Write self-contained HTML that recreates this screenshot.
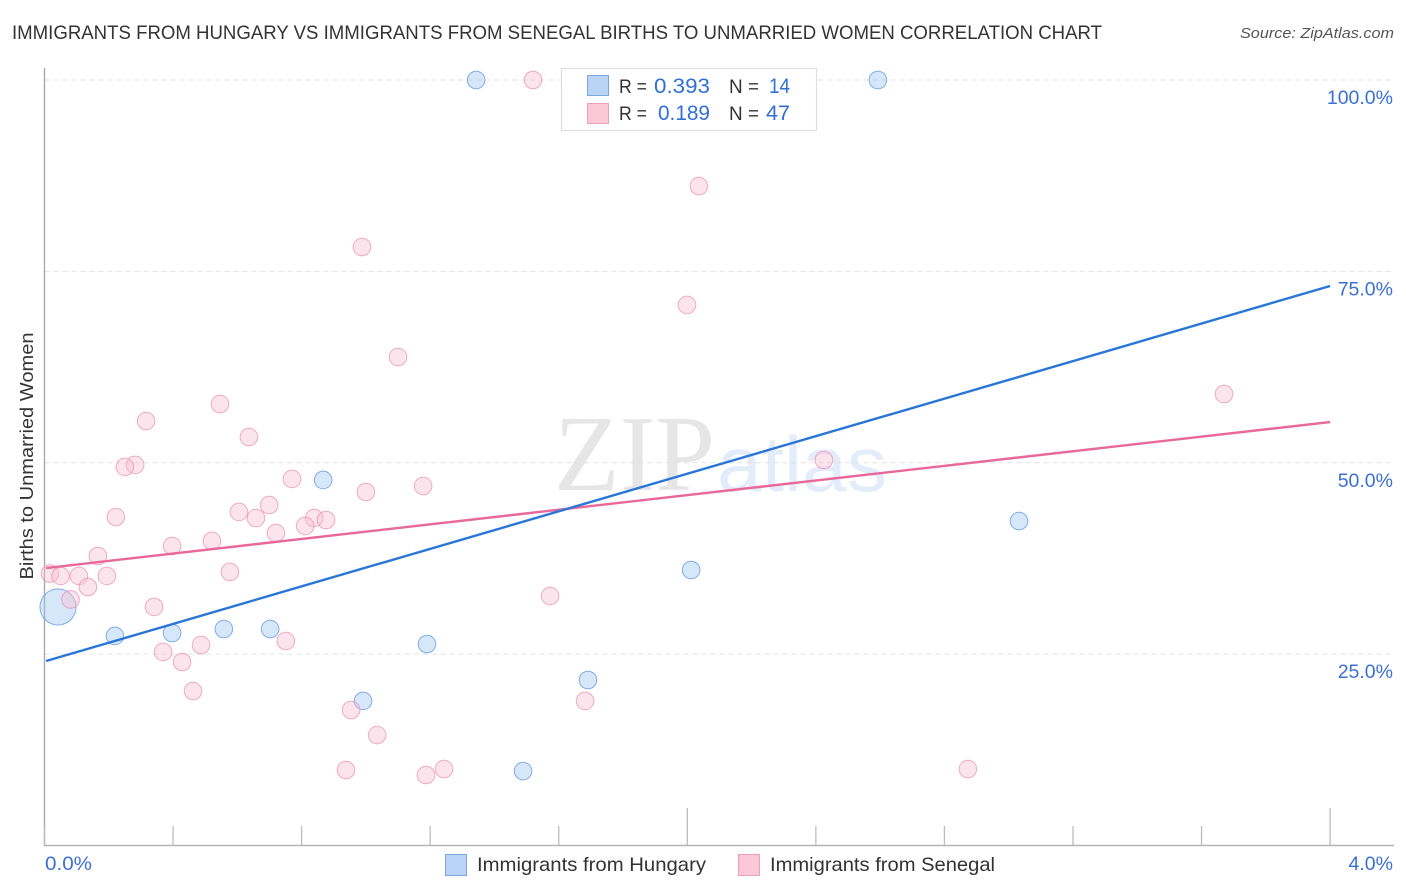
<!DOCTYPE html>
<html lang="en">
<head>
<meta charset="utf-8">
<title>Immigrants from Hungary vs Immigrants from Senegal Births to Unmarried Women Correlation Chart</title>
<style>
html,body{margin:0;padding:0;background:#fff;}
body{width:1406px;height:892px;overflow:hidden;font-family:"Liberation Sans",sans-serif;}
svg{display:block;}
text{font-family:"Liberation Sans",sans-serif;}
</style>
</head>
<body>
<svg id="chart" width="1406" height="892" viewBox="0 0 1406 892" xmlns="http://www.w3.org/2000/svg">
  <rect x="0" y="0" width="1406" height="892" fill="#ffffff"/>
  <text x="12" y="39" font-size="19" fill="#333333" textLength="1090" lengthAdjust="spacingAndGlyphs">IMMIGRANTS FROM HUNGARY VS IMMIGRANTS FROM SENEGAL BIRTHS TO UNMARRIED WOMEN CORRELATION CHART</text>
  <text x="1394" y="38" font-size="15" font-style="italic" fill="#555555" text-anchor="end" textLength="154" lengthAdjust="spacingAndGlyphs">Source: ZipAtlas.com</text>
  <g id="watermark">
    <text x="554" y="490" font-size="108" style="font-family:'Liberation Serif',serif" fill="#e6e6e6" textLength="161" lengthAdjust="spacingAndGlyphs">ZIP</text>
    <text x="717" y="491" font-size="78" fill="#e3edfa" textLength="170" lengthAdjust="spacingAndGlyphs">atlas</text>
  </g>
  <g id="grid"></g>
  <g id="axes"></g>
  <g id="points-hungary"></g>
  <g id="points-senegal"></g>
  <g id="trends"></g>
  <g id="labels"></g>
  <text transform="translate(33,456) rotate(-90)" font-size="18.5" fill="#333333" text-anchor="middle" textLength="247" lengthAdjust="spacingAndGlyphs">Births to Unmarried Women</text>

  <g>
    <rect x="561.5" y="68.5" width="255" height="62" fill="#ffffff" stroke="#dedede" stroke-width="1.2"/>
    <rect x="587.5" y="75.5" width="21" height="20" fill="#b9d4f7" stroke="#7ba7de" stroke-width="1"/>
    <rect x="587.5" y="103.5" width="21" height="20" fill="#fcc8d8" stroke="#ef9fb8" stroke-width="1"/>
    <text x="619" y="93" font-size="19.5" fill="#333333" textLength="28" lengthAdjust="spacingAndGlyphs">R =</text>
    <text x="654" y="93" font-size="21" fill="#2f6fd6" textLength="56" lengthAdjust="spacingAndGlyphs">0.393</text>
    <text x="729" y="93" font-size="19.5" fill="#333333" textLength="30" lengthAdjust="spacingAndGlyphs">N =</text>
    <text x="769" y="93" font-size="21" fill="#2f6fd6" textLength="21" lengthAdjust="spacingAndGlyphs">14</text>
    <text x="619" y="120" font-size="19.5" fill="#333333" textLength="28" lengthAdjust="spacingAndGlyphs">R =</text>
    <text x="658" y="120" font-size="21" fill="#2f6fd6" textLength="52" lengthAdjust="spacingAndGlyphs">0.189</text>
    <text x="729" y="120" font-size="19.5" fill="#333333" textLength="30" lengthAdjust="spacingAndGlyphs">N =</text>
    <text x="766" y="120" font-size="21" fill="#2f6fd6" textLength="24" lengthAdjust="spacingAndGlyphs">47</text>
  </g>

  <g>
    <g>
      <rect x="445.5" y="854.5" width="21" height="21" fill="#b9d4f7" stroke="#7ba7de" stroke-width="1"/>
      <text x="477" y="871" font-size="19.5" fill="#333333" textLength="229" lengthAdjust="spacingAndGlyphs">Immigrants from Hungary</text>
    </g>
    <g>
      <rect x="738.5" y="854.5" width="21" height="21" fill="#fcc8d8" stroke="#ef9fb8" stroke-width="1"/>
      <text x="770" y="871" font-size="19.5" fill="#333333" textLength="225" lengthAdjust="spacingAndGlyphs">Immigrants from Senegal</text>
    </g>
  </g>
</svg>
<script>
const yTickValues = [25, 50, 75, 100];
const yTickLabels = ["25.0%", "50.0%", "75.0%", "100.0%"];
const xTickValues = [0, 0.4, 0.8, 1.2, 1.6, 2.0, 2.4, 2.8, 3.2, 3.6, 4.0];
const xMajorTicks = [2.0, 4.0];
const xEndLabels = ["0.0%", "4.0%"];

const hungaryX = [1.343, 2.593, 0.042, 0.219, 0.397, 0.558, 0.702, 0.867, 0.991, 1.190, 1.489, 1.691, 2.012, 3.032];
const hungaryY = [100, 100, 31.16, 27.37, 27.76, 28.28, 28.28, 47.75, 18.88, 26.32, 9.73, 21.62, 35.99, 42.39];
const hungaryWeight = [1, 1, 4.2, 1, 1, 1, 1, 1, 1, 1, 1, 1, 1, 1];

const senegalX = [1.520, 2.036, 0.988, 1.999, 1.100, 3.670, 0.546, 0.316, 0.636, 0.282, 0.250, 2.425, 0.770, 1.178, 1.000, 0.699, 0.605, 0.222, 0.658, 0.839, 0.876, 0.811, 0.720, 0.521, 0.397, 0.166, 0.577, 0.017, 0.050, 0.107, 0.194, 0.135, 0.081, 0.341, 1.573, 0.751, 0.487, 0.369, 0.428, 0.462, 1.682, 0.954, 1.035, 0.938, 1.187, 1.243, 2.873];
const senegalY = [100, 86.15, 78.18, 70.61, 63.81, 58.98, 57.67, 55.45, 53.36, 49.71, 49.45, 50.36, 47.88, 46.96, 46.18, 44.48, 43.57, 42.91, 42.78, 42.78, 42.52, 41.74, 40.82, 39.78, 39.12, 37.82, 35.73, 35.53, 35.21, 35.21, 35.21, 33.77, 32.14, 31.16, 32.59, 26.71, 26.19, 25.28, 23.97, 20.18, 18.88, 17.70, 14.43, 9.86, 9.21, 9.99, 9.99];

const trendX = [0.005, 4.0];
const hungaryTrend = [24.1, 73.09];
const senegalTrend = [36.25, 55.32];

const NS = "http://www.w3.org/2000/svg";
function xPos(v) { return 44.5 + v * 321.4; }
function yPos(v) { return 845.5 - v * 7.655; }
function rPos(w) { return 8.8 * Math.sqrt(w); }
function make(parentId, tag, attrs) {
  const el = document.createElementNS(NS, tag);
  Object.keys(attrs).forEach(function (k) { el.setAttribute(k, attrs[k]); });
  document.getElementById(parentId).appendChild(el);
  return el;
}

yTickValues.forEach(function (v, i) {
  const y = yPos(v);
  const line = make("grid", "line", { x1: 44.5, x2: 1394, y1: y, y2: y, stroke: "#e2e2e2", "stroke-width": 1, "stroke-dasharray": "5 4" });
  
  
  const label = make("labels", "text", { x: 1393, y: y + 24, "font-size": 19.5, fill: "#3b70d3", "text-anchor": "end" });
  label.textContent = yTickLabels[i];
  
  
});

const leftAxis = make("axes", "line", { x1: 44.5, x2: 44.5, y1: 68, y2: 846, stroke: "#a8a8a8", "stroke-width": 1.4 });


const bottomAxis = make("axes", "line", { x1: 44, x2: 1394, y1: 845.5, y2: 845.5, stroke: "#b5b5b5", "stroke-width": 1.4 });



xTickValues.forEach(function (v) {
  const x = xPos(v);
  const top = xMajorTicks.indexOf(v) >= 0 ? 808 : 826;
  const tick = make("axes", "line", { x1: x, x2: x, y1: top, y2: 845, stroke: "#bcbcbc", "stroke-width": 1.3 });
  
  
});

const xLabelLeft = make("labels", "text", { x: 45, y: 870, "font-size": 19.5, fill: "#3b70d3", textLength: 47, lengthAdjust: "spacingAndGlyphs" });
xLabelLeft.textContent = xEndLabels[0];


const xLabelRight = make("labels", "text", { x: 1393, y: 870, "font-size": 19.5, fill: "#3b70d3", "text-anchor": "end" });
xLabelRight.textContent = xEndLabels[1];



hungaryX.forEach(function (v, i) {
  const c = make("points-hungary", "circle", { cx: xPos(v), cy: yPos(hungaryY[i]), r: rPos(hungaryWeight[i]), fill: "rgba(160,197,243,0.42)", stroke: "rgba(95,150,220,0.75)", "stroke-width": 1 });
  
  
});

senegalX.forEach(function (v, i) {
  const c = make("points-senegal", "circle", { cx: xPos(v), cy: yPos(senegalY[i]), r: rPos(1), fill: "rgba(248,190,210,0.42)", stroke: "rgba(232,140,172,0.7)", "stroke-width": 1 });
  
  
});

const senegalLine = make("trends", "line", { x1: xPos(trendX[0]), y1: yPos(senegalTrend[0]), x2: xPos(trendX[1]), y2: yPos(senegalTrend[1]), stroke: "#e9689a", "stroke-width": 2.4 });


const hungaryLine = make("trends", "line", { x1: xPos(trendX[0]), y1: yPos(hungaryTrend[0]), x2: xPos(trendX[1]), y2: yPos(hungaryTrend[1]), stroke: "#2a76d8", "stroke-width": 2.4 });


</script>
</body>
</html>
